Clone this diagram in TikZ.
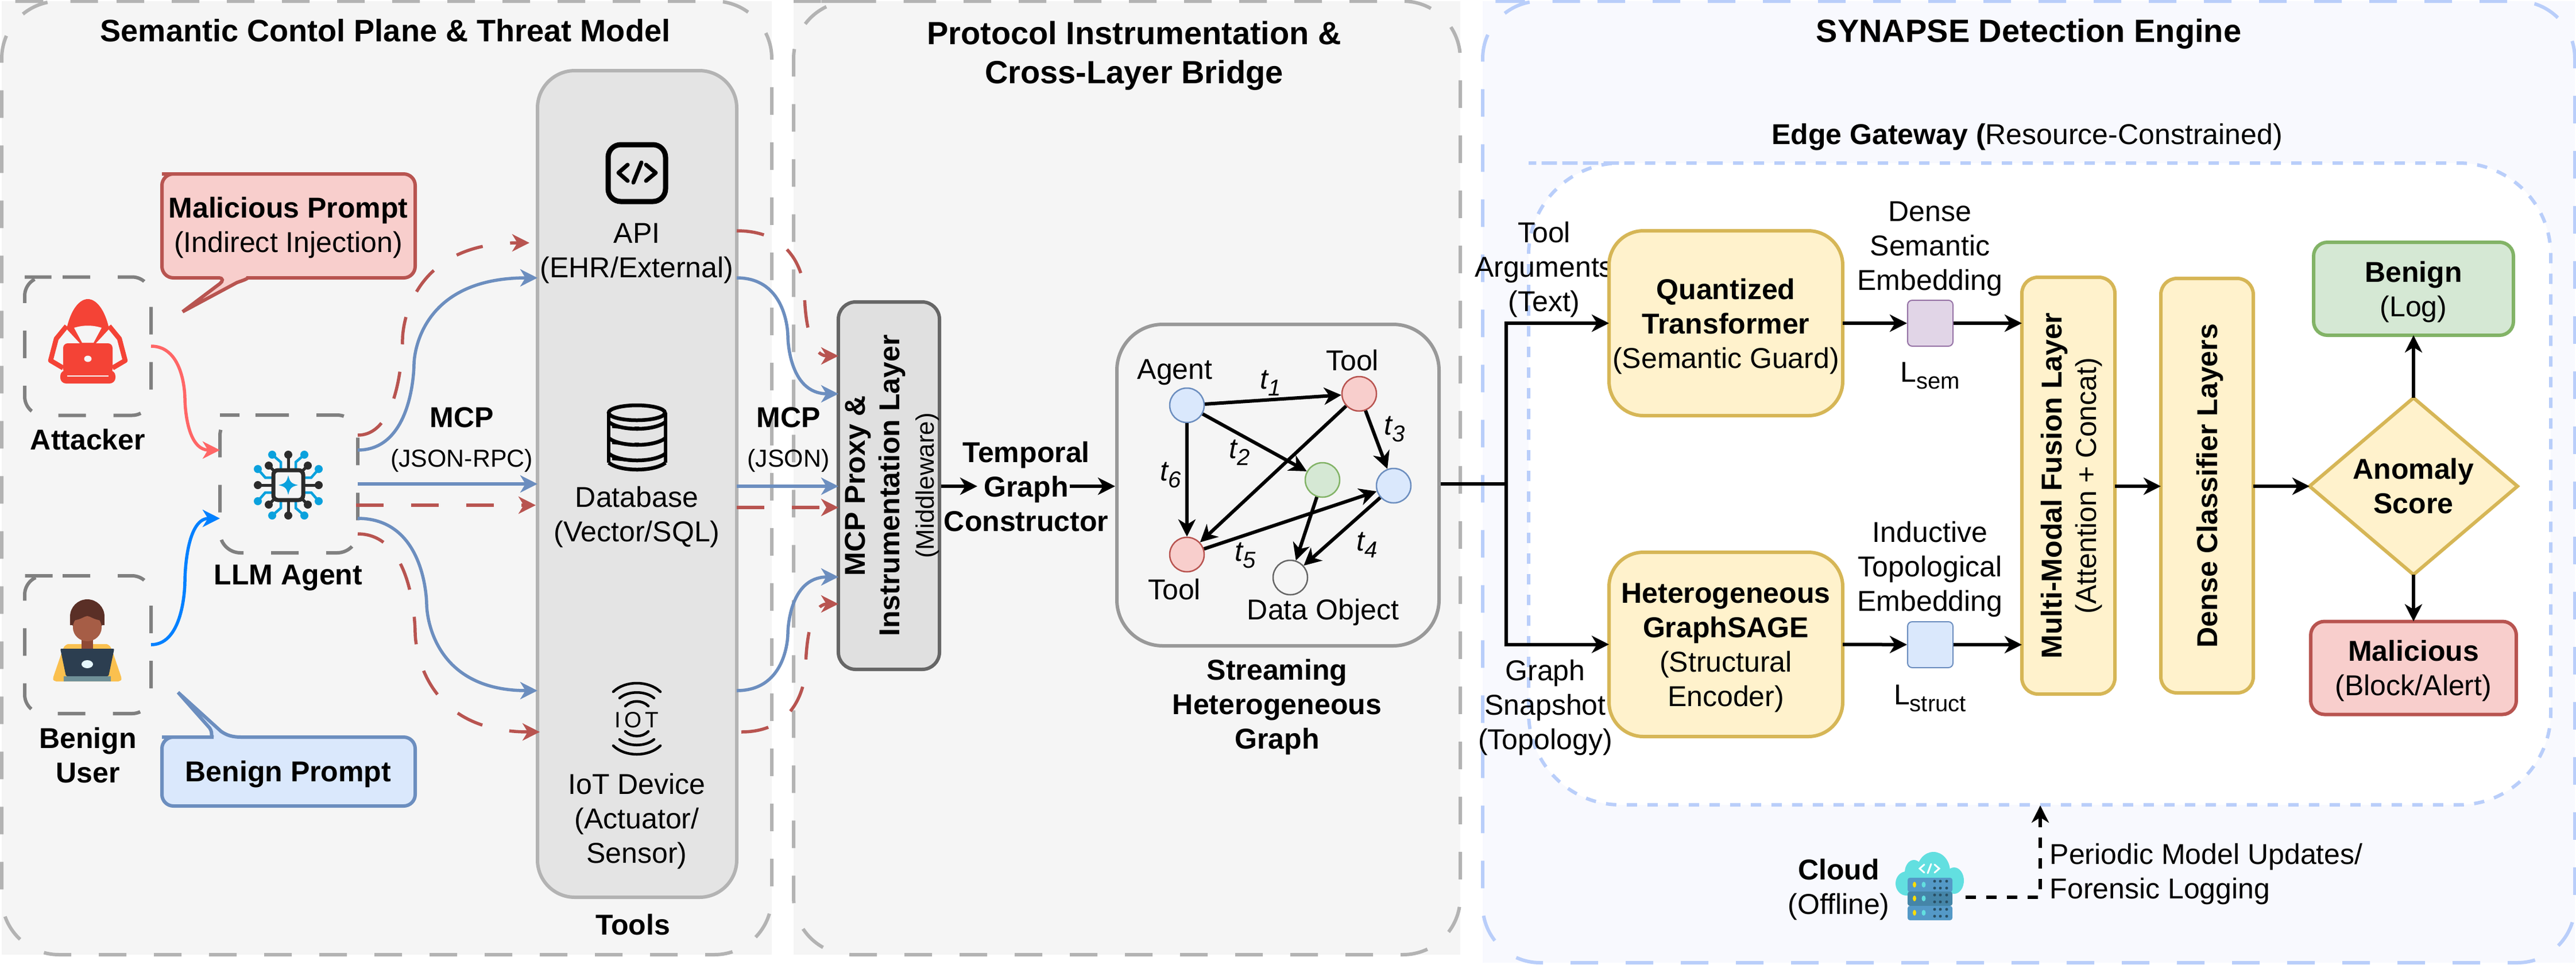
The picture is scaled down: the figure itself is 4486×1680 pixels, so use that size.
\documentclass[tikz,border=0pt]{standalone}
\usepackage{fontspec}
\setmainfont{Liberation Sans}
\usetikzlibrary{arrows.meta,shapes.geometric,positioning,calc}

\definecolor{panelgray}{HTML}{F5F5F5}
\definecolor{panelline}{HTML}{B3B3B3}
\definecolor{paneblue}{HTML}{F8F9FE}
\definecolor{paneblueline}{HTML}{B9CEFA}
\definecolor{bluefill}{HTML}{DAE8FC}
\definecolor{blueline}{HTML}{6C8EBF}
\definecolor{redfill}{HTML}{F8CECC}
\definecolor{redline}{HTML}{B85450}
\definecolor{greenfill}{HTML}{D5E8D4}
\definecolor{greenline}{HTML}{82B366}
\definecolor{yellowfill}{HTML}{FFF2CC}
\definecolor{yellowline}{HTML}{D6B656}
\definecolor{purplefill}{HTML}{E1D5E7}
\definecolor{purpleline}{HTML}{9673A6}
\definecolor{toolfill}{HTML}{E4E4E4}
\definecolor{hackred}{HTML}{F44336}
\definecolor{chipblue}{HTML}{0AA1DD}
\definecolor{chipdark}{HTML}{2B2B2B}
\definecolor{srvA}{HTML}{5499C7}
\definecolor{srvB}{HTML}{4585A8}
\definecolor{cloudteal}{HTML}{62DFE0}
\definecolor{userhair}{HTML}{5A2F26}
\definecolor{userface}{HTML}{A65D46}
\definecolor{userneck}{HTML}{8F4A36}
\definecolor{usershirt}{HTML}{FAC04F}
\definecolor{userlaptop}{HTML}{2C3E50}
\definecolor{userbase}{HTML}{6F9098}

\newcommand{\bodyfs}{\fontsize{14.23}{17.07}\selectfont}
\newcommand{\titlefs}{\fontsize{15.93}{19.3}\selectfont}
\newcommand{\smallfs}{\fontsize{12.5}{15}\selectfont}
\newcommand{\dn}{\rule{0pt}{4.7mm}}
\newcommand{\lowsub}[1]{\raisebox{-1.2mm}{\fontsize{11.4}{13}\selectfont #1}}

%% s-shaped connector with its vertical part at x=#4
\newcommand{\sconn}[4][]{%
\coordinate (mm) at ($(#2)!.5!(#3)$);
\coordinate (mm) at (#4,0 |- mm);
\draw[#1] (#2) .. controls (#2 -| mm) and (mm) .. (mm) .. controls (mm) and (mm |- #3) .. (#3);}

%% dashed outline of a node, clockwise from the top left
\newcommand{\dashround}[3][]{%
\draw[#1,rounded corners=#3] ($(#2.north west)+(#3,0)$) -- (#2.north east) -- (#2.south east)
  -- (#2.south west) -- (#2.north west) -- cycle;}

\begin{document}
\begin{tikzpicture}
[x=.1mm,y=-.1mm,
every node/.style={inner sep=0pt,align=center,font=\bodyfs},
>={Stealth[length=3mm,width=3mm,inset=.9mm]},
%
panel/.style={shape=rectangle,fill=panelgray,outer sep=0pt,minimum height=166.1mm},
iconbox/.style={shape=rectangle,outer sep=0pt,minimum width=22mm,minimum height=24.1mm},
graydash/.style={draw=panelline,line width=.6mm,dash pattern=on 4.8mm off 4.8mm},
bluedash/.style={draw=paneblueline,line width=.6mm,dash pattern=on 4.8mm off 4.8mm},
icondash/.style={draw=gray,line width=.6mm,dash pattern=on 4.8mm off 4.8mm},
softbox/.style={shape=rectangle,fill=yellowfill,draw=yellowline,line width=.6mm,outer sep=0pt},
outbox/.style={shape=rectangle,line width=.6mm,rounded corners=2.4mm,minimum height=16.2mm,outer sep=0pt},
tnode/.style={shape=circle,line width=.25mm,minimum size=6mm},
square/.style={shape=rectangle,line width=.2mm,rounded corners=.8mm,minimum width=7.9mm,minimum height=8mm},
%
flow/.style={draw,line width=.6mm,->},
bluelink/.style={draw=blueline,line width=.55mm,->},
redlink/.style={draw=redline,line width=.55mm,->,dash pattern=on 4.8mm off 4.8mm}]
\useasboundingbox (0,0) rectangle (4486,1680);
%
%% panels
\node (panelA) [panel,minimum width=134.1mm] at (673.5,832.5) {};
\dashround[graydash]{panelA}{10mm}
\node (panelB) [panel,minimum width=116.1mm] at (1962.5,832.5) {};
\dashround[graydash]{panelB}{10mm}
\node (panelC) [panel,fill=paneblue,minimum width=190.2mm,minimum height=167.5mm] at (3533,839.5) {};
\dashround[bluedash]{panelC}{10mm}
\node (gateway) [panel,fill=none,minimum width=178mm,minimum height=111.8mm] at (3552,843) {};
\dashround[bluedash,fill=white,dash pattern=on 1.8mm off 1.8mm]{gateway}{16mm}
\node (titleA) [font=\bodyfs\fontsize{15.4}{18.5}\selectfont\bfseries] at (671,53) {Semantic Contol Plane \& Threat Model};
\node (titleB) [font=\titlefs\bfseries] at (1975,97) {Protocol Instrumentation \&\\Cross-Layer Bridge};
\node (titleC) [font=\titlefs\bfseries] at (3533,59) {SYNAPSE Detection Engine};
\node (gatewaytext) at (3530,239) {\textbf{Edge Gateway (}Resource-Constrained)};
%
%% threat model actors
\node (attacker) [iconbox] at (153,603) {};
\dashround[icondash]{attacker}{3.3mm}
\node (attackertext) [font=\bodyfs\bfseries] at (153,766) {Attacker};
\node (user) [iconbox,minimum height=24mm] at (153,1123) {};
\dashround[icondash]{user}{3.3mm}
\node (usertext) [font=\bodyfs\bfseries] at (153,1316) {Benign\\User};
\node (agent) [iconbox,minimum width=24mm,minimum height=24mm] at (503,843) {};
\dashround[icondash]{agent}{3.6mm}
\node (agenttext) [font=\bodyfs\bfseries] at (502,1007) {LLM Agent};
%
%% prompts
\draw[draw=redline,fill=redfill,line width=.6mm,rounded corners=2mm]
  (302,303) -- (723,303) -- (723,484) -- (449,484) [sharp corners]
  .. controls (435,484) and (425,488) .. (413,492) -- (318,543) -- (383,494)
  .. controls (388,490) and (390,484) .. (380,484) [rounded corners=2mm] -- (282,484) -- (282,303) -- cycle;
\node (malprompt) at (502,397) {\textbf{Malicious Prompt}\\(Indirect Injection)};
\draw[draw=blueline,fill=bluefill,line width=.6mm,rounded corners=2mm]
  (302,1284) -- (352,1284) [sharp corners]
  .. controls (365,1284) and (372,1278) .. (365,1268) -- (310,1206) -- (385,1274)
  .. controls (395,1281) and (405,1284) .. (420,1284) [rounded corners=2mm]
  -- (723,1284) -- (723,1404) -- (282,1404) -- (282,1284) -- cycle;
\node (benprompt) [font=\bodyfs\bfseries] at (502,1349) {Benign Prompt};
%
%% tools
\node (tools) [shape=rectangle,draw=panelline,fill=toolfill,line width=.6mm,rounded corners=6.5mm,
  minimum width=34.7mm,minimum height=144mm] at (1109.5,843) {};
\node (apitext) at (1109,441) {API\\(EHR/External)};
\node (dbtext) at (1109,901) {Database\\(Vector/SQL)};
\node (iottext) at (1109,1431) {IoT Device\\(Actuator/\\Sensor)};
\node (toolstext) [font=\bodyfs\bfseries] at (1102,1611) {Tools};
%
%% proxy and graph constructor
\node (proxy) [shape=rectangle,draw=black!60,fill=black!12,line width=.6mm,rounded corners=3mm,rotate=90,
  minimum width=64mm,minimum height=17.6mm] at (1548,846)
  {\dn\textbf{MCP Proxy \&}\\\textbf{Instrumentation Layer}\\{\smallfs (Middleware)}};
\node (constructor) [font=\bodyfs\bfseries] at (1787,848) {Temporal\\Graph\\Constructor};
\node (mcpA) at (804,766) {\textbf{MCP}\\[2.6pt]{\fontsize{12.2}{15}\selectfont (JSON-RPC)}};
\node (mcpB) at (1373,766) {\textbf{MCP}\\[2.6pt]{\fontsize{12.2}{15}\selectfont (JSON)}};
%
%% streaming graph
\node (graph) [shape=rectangle,draw=black!40,line width=.6mm,rounded corners=8mm,
  minimum width=56.1mm,minimum height=56mm] at (2225.5,845) {};
\node (gagent) [tnode,draw=blueline,fill=bluefill] at (2067,706) {};
\node (gtoolA) [tnode,draw=redline,fill=redfill] at (2367,686) {};
\node (gtoolB) [tnode,draw=redline,fill=redfill] at (2067,966) {};
\node (ggreen) [tnode,draw=greenline,fill=greenfill] at (2303,836) {};
\node (gblue) [tnode,draw=blueline,fill=bluefill] at (2427,846) {};
\node (gdata) [tnode,draw=black!60] at (2247,1006) {};
\node (gagenttext) at (2046,648) {Agent};
\node (gtoolAtext) at (2355,628) {Tool};
\node (gtoolBtext) at (2045,1027) {Tool};
\node (gdatatext) at (2304,1067) {Data Object};
\foreach \n/\x/\y in {1/2213/667,2/2159/788,3/2429/748,4/2381/949,5/2169/968,6/2039/828}
\node (t\n) at (\x,\y) {\textit{t\lowsub{\n}}};
\node (graphtext) [font=\bodyfs\bfseries] at (2224,1232) {Streaming\\Heterogeneous\\Graph};
%
%% edges between graph nodes
\draw[flow] (gagent) -- (gtoolA);
\draw[flow] (gagent) -- (ggreen);
\draw[flow] (gagent) -- (gtoolB);
\draw[flow] (gtoolA) -- (gtoolB);
\draw[flow] (gtoolA) -- (gblue);
\draw[flow] (gtoolB) -- (gblue);
\draw[flow] (ggreen) -- (gdata);
\draw[flow] (gblue) -- (gdata);
%
%% detection engine
\node (argtext) at (2689,470) {Tool\\Arguments\\(Text)};
\node (snaptext) at (2691,1233) {Graph\\Snapshot\\(Topology)};
\node (quant) [softbox,rounded corners=6mm,minimum width=40.7mm,minimum height=32.2mm] at (3005.5,563)
  {\dn\textbf{Quantized}\\\textbf{Transformer}\\(Semantic Guard)};
\node (sage) [softbox,rounded corners=6mm,minimum width=40.7mm,minimum height=32.1mm] at (3005.5,1122.5)
  {\dn\textbf{Heterogeneous}\\\textbf{GraphSAGE}\\(Structural\\Encoder)};
\node (semtext) at (3361,433) {Dense\\Semantic\\Embedding};
\node (sem) [square,draw=purpleline,fill=purplefill] at (3361.5,563) {};
\node (semlabel) at (3361,654) {L\lowsub{sem}};
\node (topotext) at (3361,992) {Inductive\\Topological\\Embedding};
\node (struct) [square,draw=blueline,fill=bluefill] at (3361.5,1123) {};
\node (structlabel) at (3361,1216) {L\lowsub{struct}};
\node (fusion) [softbox,rounded corners=2.8mm,rotate=90,minimum width=72.6mm,minimum height=16.2mm] at (3602,846)
  {\dn\textbf{Multi-Modal Fusion Layer}\\(Attention + Concat)};
\node (dense) [softbox,rounded corners=2.8mm,rotate=90,minimum width=72.2mm,minimum height=16.1mm] at (3843.5,846)
  {\dn\textbf{Dense Classifier Layers}};
\node (score) [softbox,shape=diamond,minimum width=36.2mm,minimum height=26.1mm,font=\bodyfs\bfseries] at (4203,847)
  {Anomaly\\Score};
\node (benign) [outbox,draw=greenline,fill=greenfill,minimum width=34.8mm] at (4203,503)
  {\dn\textbf{Benign}\\(Log)};
\node (malicious) [outbox,draw=redline,fill=redfill,minimum width=35.8mm] at (4203,1163.5)
  {\dn\textbf{Malicious}\\(Block/Alert)};
\node (cloudtext) at (3202,1550) {\textbf{Cloud}\\(Offline)};
\node (updatetext) [anchor=west,align=left] at (3569,1523) {Periodic Model Updates/\\Forensic Logging};
%
%% ports on the boxes
\coordinate (ain1) at (383,784);
\coordinate (ain2) at (383,903);
\coordinate (aoutA) at (623,784);
\coordinate (aoutB) at (623,843);
\coordinate (aoutC) at (623,903);
\coordinate (aredA) at (623,758);
\coordinate (aredB) at (620,880);
\coordinate (aredC) at (623,930);
\coordinate (apiin) at (936,484);
\coordinate (dbin) at (936,843);
\coordinate (iotin) at (936,1203);
\coordinate (apired) at (922,423);
\coordinate (dbred) at (933,880);
\coordinate (iotred) at (940,1275);
\coordinate (apiout) at (1283,484);
\coordinate (dbout) at (1283,847);
\coordinate (iotout) at (1283,1203);
\coordinate (apiredout) at (1283,402);
\coordinate (dbredout) at (1283,884);
\coordinate (iotredout) at (1291,1275);
\coordinate (pinA) at (1460,686);
\coordinate (pinB) at (1460,847);
\coordinate (pinC) at (1460,1005);
\coordinate (predA) at (1460,620);
\coordinate (predB) at (1460,884);
\coordinate (predC) at (1460,1052);
\coordinate (consin) at (1702,847);
\coordinate (consout) at (1863,847);
\coordinate (branch) at (2623,843);
\coordinate (cloudout) at (3423,1563);
\coordinate (cloudup) at (3553,1403);
%
%% connectors on the threat side
\sconn[draw=red!60!white,line width=.55mm,->]{attacker.east}{ain1}{322}
\sconn[draw=blue!50!cyan,line width=.55mm,->]{user.east}{ain2}{322}
\sconn[bluelink]{aoutA}{apiin}{721}
\draw[bluelink] (aoutB) -- (dbin);
\sconn[bluelink]{aoutC}{iotin}{743}
\sconn[redlink]{aredA}{apired}{701}
\draw[redlink] (aredB) -- (dbred);
\sconn[redlink]{aredC}{iotred}{723}
\sconn[bluelink]{apiout}{pinA}{1372}
\draw[bluelink] (dbout) -- (pinB);
\sconn[bluelink]{iotout}{pinC}{1372}
\sconn[redlink]{apiredout}{predA}{1401}
\draw[redlink] (dbredout) -- (predB);
\sconn[redlink]{iotredout}{predC}{1403}
%
%% connectors on the detection side
\draw[flow] (proxy.south |- pinB) -- (consin);
\draw[flow] (consout) -- (graph.west |- consout);
\draw[line width=.6mm] (graph.east |- branch) -- (branch);
\draw[flow] (branch) |- (quant.west);
\draw[flow] (branch) |- (sage.west);
\draw[flow] (quant.east) -- (sem);
\draw[flow] (sage.east) -- (struct);
\draw[flow] (sem) -- (fusion.north |- sem);
\draw[flow] (struct) -- (fusion.north |- struct);
\draw[flow] (fusion.south |- score) -- (dense.north |- score);
\draw[flow] (dense.south |- score) -- (score.west);
\draw[flow] (score.north) -- (benign.south);
\draw[flow] (score.south) -- (malicious.north);
\draw[flow,dash pattern=on 1.8mm off 1.8mm] (cloudout) -| (cloudup);
%
%% attacker icon
\begin{scope}[shift={(153,595)}]
\draw[hackred,line width=.85mm,line join=round] (-37,-27) -- (-55,-5) -- (-65,33) -- (-43,46);
\draw[hackred,line width=.85mm,line join=round] (37,-27) -- (55,-5) -- (65,33) -- (43,46);
\fill[hackred] (-37,-22) .. controls (-30,-55) and (-15,-74) .. (0,-74) .. controls (15,-74) and (30,-55) .. (37,-22) -- (12,5) -- (-12,5) -- cycle;
\fill[panelgray] (-24,-24) .. controls (-8,-29) and (8,-29) .. (24,-24) -- (10,2) -- (-10,2) -- cycle;
\fill[hackred,rounded corners=.8mm] (-43,3) rectangle (43,56);
\fill[hackred,rounded corners=1mm] (-48,50) rectangle (48,73);
\fill[panelgray] (0,30) ellipse [x radius=.65mm,y radius=.55mm];
\draw[panelgray,line width=.15mm] (-36,60) -- (36,60);
\end{scope}
%
%% user icon
\begin{scope}[shift={(152,1117)}]
\fill[usershirt] (-34,5) .. controls (-40,8) .. (-44,18) -- (-59,62) .. controls (-60,68) .. (-54,70) -- (54,70) .. controls (60,68) .. (59,62) -- (44,18) .. controls (40,8) .. (34,5) -- cycle;
\fill[userneck] (-10,-5) rectangle (10,13);
\fill[userhair] (0,-43) circle (3mm);
\fill[userhair] (-30,-43) rectangle (30,-28);
\fill[userface] (0,-24) ellipse [x radius=2.5mm,y radius=2.4mm];
\fill[userhair] (-25,-36) .. controls (-10,-38) and (-5,-44) .. (0,-44) .. controls (5,-44) and (10,-38) .. (25,-36) -- (25,-60) -- (-25,-60) -- cycle;
\fill[userlaptop,rounded corners=.2mm] (-47,13) -- (47,13) -- (37,61) -- (-37,61) -- cycle;
\fill[cyan!10!white] (0,40) ellipse [x radius=1mm,y radius=.7mm];
\fill[userbase] (-41,61) rectangle (41,70);
\end{scope}
%
%% agent icon
\begin{scope}[shift={(502,845)}]
\foreach \a in {0,90,180,270} {
  \begin{scope}[rotate=\a]
  \draw[chipdark,line width=.5mm] (0,-28) -- (0,-53);
  \fill[chipdark] (0,-53) circle (.7mm);
  \draw[chipdark,line width=.5mm] (-22,-22) -- (-34,-34);
  \fill[chipdark] (-34,-34) circle (.7mm);
  \foreach \s in {1,-1} {
    \draw[chipblue,line width=.45mm] (\s*13,-28) -- (\s*13,-40) -- (\s*28,-53);
    \fill[chipblue] (\s*28,-53) circle (.7mm);}
  \end{scope}}
\draw[chipdark,fill=panelgray,line width=.7mm,rounded corners=.8mm] (-26,-26) rectangle (26,26);
\fill[chipblue] (0,-17) .. controls (3,-5) and (5,-3) .. (17,0) .. controls (5,3) and (3,5) .. (0,17)
  .. controls (-3,5) and (-5,3) .. (-17,0) .. controls (-5,-3) and (-3,-5) .. (0,-17) -- cycle;
\end{scope}
%
%% api icon
\draw[line width=.9mm,rounded corners=2.2mm] (1059,252) rectangle (1159,351);
\draw[line width=.7mm,line cap=round,line join=round] (1093,287) -- (1077,301) -- (1093,315);
\draw[line width=.7mm,line cap=round] (1117,283) -- (1103,318);
\draw[line width=.7mm,line cap=round,line join=round] (1125,287) -- (1142,301) -- (1125,315);
%
%% database icon
\begin{scope}[line width=.65mm]
\draw (1109,719) ellipse [x radius=4.9mm,y radius=1.3mm];
\draw (1060,719) -- (1060,806);
\draw (1159,719) -- (1159,806);
\foreach \y in {735,763,790,806}
  \draw (1060,\y) .. controls (1080,\y+16) and (1139,\y+16) .. (1159,\y);
\foreach \y in {746,774,802} {
  \draw[line width=.5mm] (1066,\y-3) -- (1098,\y);
  \fill (1105,\y-3) rectangle (1113,\y+3);}
\end{scope}
%
%% iot icon
\begin{scope}[shift={(1109,1252)},line width=.45mm,line cap=round]
\foreach \s in {1,-1}
  \foreach \r/\p/\q in {41/47/67,30/36/49,20/22/33}
    \draw (-\r,\s*\p) .. controls (-\r/2,\s*\q) and (\r/2,\s*\q) .. (\r,\s*\p);
\node (iotmark) [font=\fontsize{11}{13}\selectfont] at (0,2) {I\kern.6mm O\kern.6mm T};
\end{scope}
%
%% cloud icon
\fill[cloudteal] (3367,1518) ellipse [x radius=2.9mm,y radius=3.4mm];
\fill[cloudteal] (3333,1520) ellipse [x radius=1.6mm,y radius=2.2mm];
\fill[cloudteal] (3320,1539) ellipse [x radius=1.9mm,y radius=2.1mm];
\fill[cloudteal] (3403,1534) ellipse [x radius=1.7mm,y radius=2.3mm];
\draw[white,line width=.3mm,line cap=round] (3351,1506) -- (3343,1513) -- (3351,1520);
\draw[white,line width=.3mm,line cap=round] (3363,1505) -- (3357,1521);
\draw[white,line width=.3mm,line cap=round] (3369,1506) -- (3377,1513) -- (3369,1520);
\foreach \y/\c in {1529/srvA,1553/srvB,1578/srvA} {
  \fill[\c,rounded corners=.4mm] (3322,\y) rectangle (3400,\y+25);
  \fill[yellow!80!orange] (3334,\y+12) ellipse [x radius=.3mm,y radius=.5mm];
  \fill[cloudteal] (3350,\y+12) ellipse [x radius=.35mm,y radius=.5mm];
  \foreach \x in {3369,3379,3390} {
    \fill[srvB!60!black] (\x,\y+6) circle (.25mm);
    \fill[srvB!60!black] (\x,\y+18) circle (.25mm);}}
\end{tikzpicture}
\end{document}
